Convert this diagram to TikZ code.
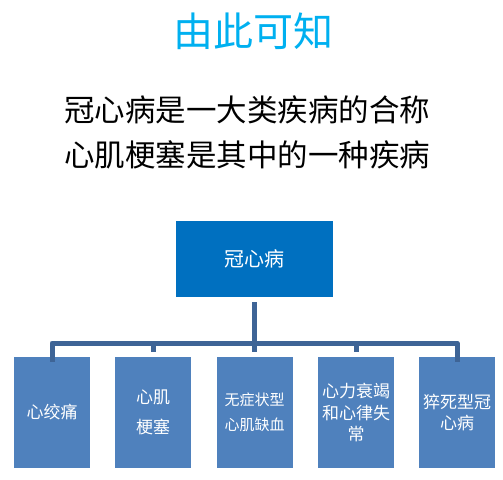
\documentclass[tikz,border=0pt]{standalone}
\usepackage{fontspec}
\setmainfont{Noto Sans CJK SC}
\usetikzlibrary{positioning}
\definecolor{titleblue}{HTML}{00B0F0}
\definecolor{rootblue}{HTML}{0070C0}
\definecolor{leafblue}{HTML}{4F81BD}
\definecolor{linkblue}{HTML}{3E6496}

\begin{document}
\begin{tikzpicture}[x=1pt,y=-1pt,
  rootbox/.style={fill=rootblue, text=white, minimum width=157pt, minimum height=76pt, inner sep=0pt,
    font=\fontsize{20}{24}\selectfont},
  leafbox/.style={fill=leafblue, text=white, minimum width=76pt, minimum height=111pt, inner sep=0pt, align=center},
  link/.style={draw=linkblue, line width=5pt}]
  \useasboundingbox (0,0) rectangle (503,479);
  % heading and the two lines of text
  \node[text=titleblue, font=\fontsize{40}{44}\selectfont] (title) at (253,31) {由此可知};
  \node[font=\fontsize{30.5}{45}\selectfont, align=center] (intro) at (247,132) {冠心病是一大类疾病的合称\\心肌梗塞是其中的一种疾病};
  % the tree
  \node[rootbox] (root) at (254.5,259) {冠心病};
  \foreach \i/\x/\fs/\lead/\txt in {%
    1/52/17/22/心绞痛,
    2/153/17/30/心肌\\梗塞,
    3/254.5/15/25/无症状型\\心肌缺血,
    4/356/17/21.7/心力衰竭\\和心律失\\常,
    5/457/17/21/猝死型冠\\心病}{
      \node[leafbox, font=\fontsize{\fs}{\lead}\selectfont] (leaf\i) at (\x,412.5) {\txt};
  }
  \coordinate (bus) at (254.5,343);
  \draw[link, shorten <=5pt] (root.south) -- (bus);
  \draw[link, line join=round] ([yshift=-5pt]leaf1.north) -- (bus -| leaf1.north) -- (bus -| leaf5.north) -- ([yshift=-5pt]leaf5.north);
  \foreach \i in {2,3,4}{
    \draw[link, shorten >=5pt] (bus -| leaf\i.north) -- (leaf\i.north);
  }
\end{tikzpicture}
\end{document}
